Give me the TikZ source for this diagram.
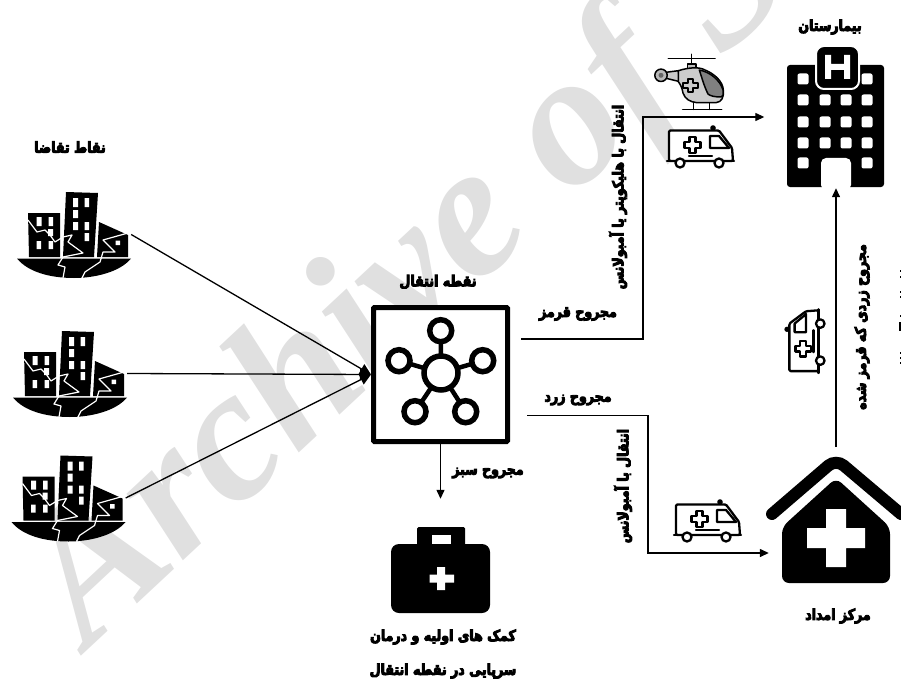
\documentclass[tikz,border=0pt]{standalone}
\usepackage{fontspec}
\usetikzlibrary{arrows.meta}
\TeXXeTstate=1
\newfontfamily\arabicfont[Script=Arabic,FakeBold=6,FakeStretch=0.84]{DejaVu Sans Bold}
\newfontfamily\wmfont{Liberation Serif}
\newcommand{\fa}[1]{{\arabicfont\beginR #1\endR}}
\tikzset{
  conn/.style={line width=1.3pt,draw=black},
  arr/.style={conn,-{Triangle[length=9pt,width=8pt]}},
  bigarr/.style={conn,-{Triangle[length=11pt,width=11pt]}},
  lbl/.style={inner sep=0pt,text=black,align=center,font=\fontsize{15}{16}\selectfont},
  ambu/.pic={
    \begin{scope}[line width=2.3pt,draw=black,line join=round,line cap=round]
      \fill[black] (46,0) circle (2.8);
      \draw[fill=white,rounded corners=1.2] (2,33) -- (2,2.5) -- (52,2.5) -- (65,20) -- (66,33) -- cycle;
      \draw (43,20) -- (43,8) -- (52,8) -- (62,20) -- cycle;
      \draw (22.5,9) -- (28.5,9) -- (28.5,14) -- (33.5,14) -- (33.5,20) -- (28.5,20) -- (28.5,25) -- (22.5,25) -- (22.5,20) -- (17.5,20) -- (17.5,14) -- (22.5,14) -- cycle;
      \draw (22,28) -- (45,28);
      \draw (0,33) -- (67,33);
      \draw[fill=white] (13,35) circle (4.5);
      \draw[fill=white] (52,35) circle (4.5);
    \end{scope}
  },
  cityicon/.pic={
    \fill[black] (28,213) -- (60,213) -- (60,257) -- (29,257) -- cycle;
    \fill[black] (66,192) -- (98,193) -- (94,257) -- (63,257) -- cycle;
    \fill[black] (99,222) -- (128,235) -- (128,257) -- (97,257) -- cycle;
    \fill[black] (17,258.5) -- (131,258.5) .. controls (120,272) and (95,278) .. (74,278) .. controls (50,278) and (28,272) .. (17,258.5) -- cycle;
    \fill[white] (36.5,217) rectangle (41.5,226) (48.5,217) rectangle (53,226)
      (36.5,241) rectangle (41,249) (48.5,241) rectangle (53,249)
      (48,229) rectangle (53,236)
      (73,198) rectangle (78,207) (84.5,198) rectangle (89,207)
      (73,210) rectangle (78,218) (73,222) rectangle (78,230) (84.5,222) rectangle (89,230)
      (84.5,233) rectangle (89,241) (115.5,240.5) rectangle (120,245);
    \draw[white,line width=1.2pt,line join=round] (28,220) -- (37,232) -- (45,230) -- (50,235) -- (55,242) -- (63,237) -- (72,235) -- (68,242) -- (83,253) -- (63,257) -- (58,265) -- (65,267) -- (63,278);
    \draw[white,line width=1.2pt,line join=round] (128,233) -- (103,240) -- (115,252) -- (103,252) -- (100,262) -- (85,272) -- (82,278);
  },
}
\begin{document}
\begin{tikzpicture}[x=1pt,y=-1pt]
\useasboundingbox (0,0) rectangle (901,679);
\clip (0,0) rectangle (901,679);
% watermark
\node[rotate=43,inner sep=0pt,text=black!12,anchor=base west] (wmark) at (88,650) {\fontsize{190}{190}\wmfont\bfseries\itshape Archive of S};

% labels
\node[lbl] (tDemand) at (70,147) {\fa{نقاط تقاضا}};
\node[lbl] (tHosp) at (830,27) {\fa{بیمارستان}};
\node[lbl] (tTrans) at (438,282) {\fa{نقطه انتقال}};
\node[lbl] (tRed) at (578,314) {\fa{مجروح قرمز}};
\node[lbl] (tYel) at (578,400) {\fa{مجروح زرد}};
\node[lbl] (tGreen) at (488,473) {\fa{مجروح سبز}};
\node[lbl] (tRelief) at (838,616) {\fa{مرکز امداد}};
\node[lbl] (tFirstA) at (443,637) {\fa{کمک های اولیه و درمان}};
\node[lbl] (tFirstB) at (443,671) {\fa{سرپایی در نقطه انتقال}};
\node[lbl,rotate=90] (tHeli) at (618,197) {\fa{انتقال با هلیکوپتر یا آمبولانس}};
\node[lbl,rotate=90] (tAmb) at (623,486) {\fa{انتقال با آمبولانس}};
\node[lbl,rotate=90] (tYR) at (862,327) {\fa{مجروح زردی که قرمز شده}};

% invisible anchors for icons
\node[inner sep=0pt,minimum width=114pt,minimum height=85pt] (city1) at (74,234.5) {};
\node[inner sep=0pt,minimum width=114pt,minimum height=85pt] (city2) at (70,373.5) {};
\node[inner sep=0pt,minimum width=114pt,minimum height=85pt] (city3) at (68.5,498) {};
\node[inner sep=0pt,minimum width=142pt,minimum height=142pt] (hospital) at (835.5,117) {};
\node[inner sep=0pt,minimum width=134pt,minimum height=136pt] (house) at (836,515) {};
\node[inner sep=0pt,minimum width=99pt,minimum height=114pt] (kit) at (440.5,556) {};

% city icons
\pic at (0,0) {cityicon};
\pic at (-4,139) {cityicon};
\pic at (-5.5,263.5) {cityicon};

% hub
\node[draw=black,line width=5pt,fill=white,inner sep=0pt,minimum size=134pt,rounded corners=1pt] (hub) at (440.5,374.5) {};
\begin{scope}[line width=5.5pt,draw=black]
  \draw[line width=4.5pt] (441,373) -- (440.7,331);
  \draw[line width=4.5pt] (441,373) -- (482.7,360.7);
  \draw[line width=4.5pt] (441,373) -- (399,360.7);
  \draw[line width=4.5pt] (441,373) -- (415,411.7);
  \draw[line width=4.5pt] (441,373) -- (465.7,411.7);
  \draw[fill=white] (441,373) circle (17);
  \draw[fill=white] (440.7,330.7) circle (11);
  \draw[fill=white] (482.7,360.7) circle (11);
  \draw[fill=white] (399,360.7) circle (11);
  \draw[fill=white] (415,411.7) circle (11);
  \draw[fill=white] (465.7,411.7) circle (11);
\end{scope}

% hospital
\fill[black,rounded corners=3pt] (787,65) rectangle (884,187);
\draw[white,line width=2pt,fill=black,rounded corners=8pt] (816,46) rectangle (859,89);
\fill[white] (825,55) rectangle (831,79) (844,55) rectangle (850,79) (825,64) rectangle (850,70);
\foreach \cx/\cy in {803/79,867/79,
  803/100,825/100,846/100,867/100,
  803/122,825/122,846/122,867/122,
  803/143,825/143,846/143,867/143,
  803/163,867/163}{
  \fill[white,rounded corners=2pt] (\cx-5.5,\cy-5.5) rectangle (\cx+5.5,\cy+5.5);
}
\fill[white,rounded corners=5pt] (821,190) -- (821,158) -- (851,158) -- (851,190) -- cycle;

% helicopter
\begin{scope}[line width=1.5pt,draw=black,line join=round,line cap=round]
  \draw (668.3,58.3) -- (715,58.3);
  \draw (691.7,54.3) -- (691.7,68.3);
  \draw[fill=black!25] (687.7,64) rectangle (696,68.3);
  \draw (693.3,102.7) -- (693.3,109.3) (709.3,102.7) -- (709.3,109.3);
  \draw (682.7,109.3) -- (721.7,109.3);
  \draw[fill=black!20] (666,72.3) -- (678.3,70.7) -- (680,81.7) -- (666,78.3) -- cycle;
  \draw[fill=black!28] (661,75.3) circle (6.2);
  \fill[black!60] (661,75.3) circle (2.5);
  \draw[fill=black!20] (678.3,70.7) .. controls (690,67) and (700,67) .. (705,70) .. controls (715,74) and (723,82) .. (723.3,90) .. controls (724,97) and (722,102) .. (716,102.7) -- (697,102.7) .. controls (690,102) and (685,99) .. (683,93) .. controls (682,87) and (680,84) .. (678.3,81.7) -- cycle;
  \draw[fill=black!50] (699.3,70) .. controls (710,72) and (720,80) .. (723,90) .. controls (723.5,95) and (723,97) .. (721,97) .. controls (715,97) and (710,96) .. (708,94) .. controls (704,86) and (702,78) .. (699.3,70) -- cycle;
  \draw[fill=black!20] (688,79) -- (693,79) -- (693,83) -- (698,83) -- (698,88) -- (693,88) -- (693,92) -- (688,92) -- (688,88) -- (683,88) -- (683,83) -- (688,83) -- cycle;
\end{scope}

% ambulances
\pic at (667,128) {ambu};
\pic at (674,502) {ambu};
\pic[rotate=90,scale=0.95] at (787,373) {ambu};

% house
\fill[black,rounded corners=7pt] (836,478) -- (782,527) -- (782,583) -- (890,583) -- (890,527) -- cycle;
\draw[black,line width=12pt,line cap=round,rounded corners=10pt] (772,514) -- (836,459) -- (901,514);
\fill[white] (826,509) rectangle (846,567) (807,528) rectangle (865,548);

% first aid kit
\fill[black,rounded corners=1.5pt] (417,527) rectangle (465,550);
\fill[white] (432,535) rectangle (451,544);
\fill[black,rounded corners=8pt] (391,544) rectangle (490,613);
\fill[white] (437,567) rectangle (445,590) (429.5,574.5) rectangle (454,582.5);

% connectors
\coordinate (redStart) at (521,339);
\coordinate (redBend) at (643,339);
\coordinate (yelStart) at (527,415.7);
\coordinate (yelBend) at (648,415.7);
\coordinate (riseStart) at (836,447);
\draw[bigarr] (city1.east) -- (hub.west);
\draw[bigarr] (city2.east) -- (hub.west);
\draw[bigarr] (city3.east) -- (hub.west);
\draw[arr] (redStart) -- (redBend) |- (hospital.west);
\draw[arr] (yelStart) -- (yelBend) |- ([yshift=-38pt]house.west);
\draw[arr] (hub.south) -- (kit.north);
\draw[arr] (riseStart) -- (hospital.south -| riseStart);

% marks at the right edge
\foreach \my in {271,277,292,297,316,353,358,363}{\fill[black] (899.5,\my-1) rectangle (901,\my+1);}
\fill[black] (899,322) rectangle (901,331);
\end{tikzpicture}
\end{document}
